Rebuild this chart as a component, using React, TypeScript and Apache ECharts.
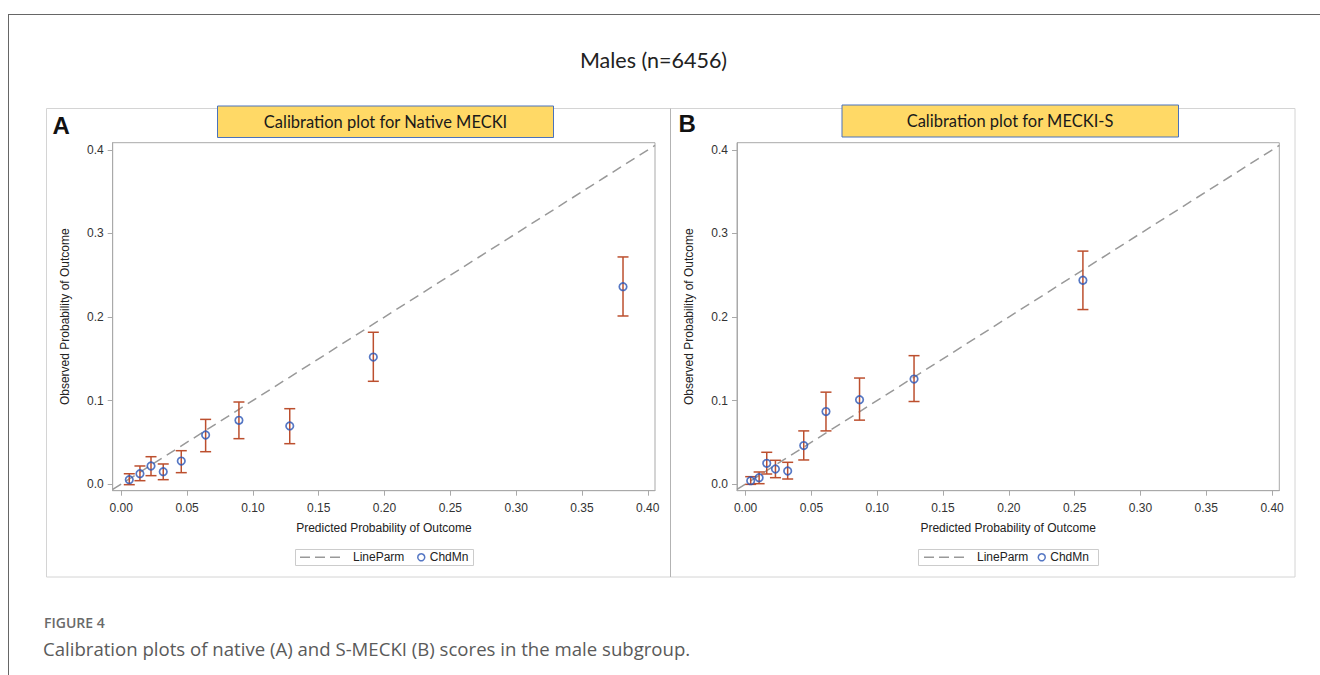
import React, { useEffect, useRef } from "react";
import * as echarts from "echarts";

// ---- Data ----
const nativePredicted = [0.0061, 0.0142, 0.0226, 0.0319, 0.0456, 0.0641, 0.0894, 0.128, 0.1915, 0.3812];
const nativeObserved = [0.0052, 0.0124, 0.0216, 0.0148, 0.0275, 0.0587, 0.0763, 0.0695, 0.152, 0.2363];
const nativeLower = [-0.0008, 0.004, 0.010, 0.0052, 0.0136, 0.0387, 0.0543, 0.0483, 0.123, 0.2012];
const nativeUpper = [0.0123, 0.0216, 0.0327, 0.024, 0.0399, 0.0774, 0.0982, 0.0902, 0.1817, 0.2719];

const sPredicted = [0.0039, 0.0103, 0.0161, 0.0227, 0.032, 0.0442, 0.0611, 0.0866, 0.128, 0.2563];
const sObserved = [0.004, 0.0076, 0.0248, 0.018, 0.0156, 0.046, 0.0868, 0.101, 0.1257, 0.244];
const sLower = [-0.0004, 0.0004, 0.012, 0.0076, 0.006, 0.0288, 0.0636, 0.0765, 0.0988, 0.2089];
const sUpper = [0.0088, 0.0144, 0.038, 0.0284, 0.026, 0.0636, 0.110, 0.1269, 0.1537, 0.2789];

const xTicks = [0, 0.05, 0.1, 0.15, 0.2, 0.25, 0.3, 0.35, 0.4];
const yTicks = [0, 0.1, 0.2, 0.3, 0.4];
const X_MIN = -0.0065;
const X_MAX = 0.4055;
const Y_MIN = -0.008;
const Y_MAX = 0.4087;
const refLineEnds = [X_MIN, X_MAX]; // LineParm: observed = predicted

const panelTitles = ["Calibration plot for Native MECKI", "Calibration plot for MECKI-S"];
const panelLetters = ["A", "B"];
const mainTitle = "Males (n=6456)";
const figLabel = "FIGURE 4";
const caption = "Calibration plots of native (A) and S-MECKI (B) scores in the male subgroup.";

const SAS_FONT = "'Liberation Sans', Arial, sans-serif";
const AXIS_COLOR = "#a9a9a9";
const BAR_COLOR = "#BC4F2E";
const MARK_COLOR = "#2A55B5";
const LINE_COLOR = "#999999";
const DASH_ICON = "path://M0,0h10v1.6h-10z M15,0h10v1.6h-10z M30,0h10v1.6h-10z";

export default function App() {
  const ref = useRef<HTMLDivElement>(null);

  useEffect(() => {
    if (!ref.current) return;
    const chart = echarts.init(ref.current, undefined, { renderer: "svg" });

    const panels = [
      { pred: nativePredicted, obs: nativeObserved, lo: nativeLower, hi: nativeUpper },
      { pred: sPredicted, obs: sObserved, lo: sLower, hi: sUpper },
    ];
    const gridLefts = [112.7, 737];

    const errorRender = (params: any, api: any) => {
      const x = api.value(0);
      const lo = api.value(1);
      const hi = api.value(2);
      const pLo = api.coord([x, lo]);
      const pHi = api.coord([x, hi]);
      const hw = 5.5;
      const st = { stroke: BAR_COLOR, lineWidth: 1.5 };
      return {
        type: "group",
        children: [
          { type: "line", shape: { x1: pLo[0], y1: pLo[1], x2: pHi[0], y2: pHi[1] }, style: st },
          { type: "line", shape: { x1: pLo[0] - hw, y1: pLo[1], x2: pLo[0] + hw, y2: pLo[1] }, style: st },
          { type: "line", shape: { x1: pHi[0] - hw, y1: pHi[1], x2: pHi[0] + hw, y2: pHi[1] }, style: st },
        ],
      };
    };

    const series: any[] = [];
    panels.forEach((p, i) => {
      series.push({
        type: "line",
        name: "LineParm",
        xAxisIndex: i,
        yAxisIndex: i,
        data: refLineEnds.map((v) => [v, v]),
        symbol: "none",
        lineStyle: { color: LINE_COLOR, width: 1.5, type: [10, 6] },
        z: 2,
      });
      series.push({
        type: "custom",
        name: "CI",
        xAxisIndex: i,
        yAxisIndex: i,
        data: p.pred.map((x, k) => [x, p.lo[k], p.hi[k]]),
        encode: { x: 0, y: [1, 2] },
        renderItem: errorRender,
        z: 3,
      });
      series.push({
        type: "scatter",
        name: "ChdMn",
        xAxisIndex: i,
        yAxisIndex: i,
        data: p.pred.map((x, k) => [x, p.obs[k]]),
        symbol: "circle",
        symbolSize: 7.5,
        itemStyle: { color: "rgba(0,0,0,0)", borderColor: MARK_COLOR, borderWidth: 1.7 },
        z: 5,
      });
    });

    const labelStyle = { fontFamily: SAS_FONT, fontSize: 12, color: "#333" };

    const legendLine = (left: number) => ({
      data: [{ name: "LineParm", icon: DASH_ICON, itemStyle: { color: LINE_COLOR, borderWidth: 0 } }],
      left,
      top: 551.3,
      padding: 0,
      itemWidth: 40,
      itemHeight: 12,
      selectedMode: false,
      textStyle: { ...labelStyle, color: "#222", padding: [0, 0, 0, 8] },
    });
    const legendMark = (left: number) => ({
      data: [
        {
          name: "ChdMn",
          icon: "circle",
          itemStyle: { color: "rgba(0,0,0,0)", borderColor: MARK_COLOR, borderWidth: 1.5 },
        },
      ],
      left,
      top: 551.3,
      padding: 0,
      itemWidth: 7,
      itemHeight: 7,
      selectedMode: false,
      textStyle: { ...labelStyle, color: "#222" },
    });

    const text = (t: string, x: number, y: number, extra: any) => ({
      type: "text",
      x,
      y,
      z: 100,
      style: { text: t, verticalAlign: "middle", ...extra },
    });

    const option: any = {
      animation: false,
      backgroundColor: "#ffffff",
      grid: gridLefts.map((left) => ({
        left,
        top: 142.7,
        width: 542.3,
        height: 348,
        show: true,
        borderColor: AXIS_COLOR,
        borderWidth: 1,
        backgroundColor: "transparent",
      })),
      xAxis: [0, 1].map((i) => ({
        gridIndex: i,
        type: "value",
        min: X_MIN,
        max: X_MAX,
        axisLine: { show: true, onZero: false, lineStyle: { color: AXIS_COLOR } },
        axisTick: { show: true, length: 5, customValues: xTicks, lineStyle: { color: AXIS_COLOR } },
        axisLabel: {
          customValues: xTicks,
          formatter: (v: number) => v.toFixed(2),
          margin: 11,
          ...labelStyle,
        },
        splitLine: { show: false },
        name: "Predicted Probability of Outcome",
        nameLocation: "middle",
        nameGap: 31,
        nameTextStyle: { ...labelStyle, color: "#222" },
      })),
      yAxis: [0, 1].map((i) => ({
        gridIndex: i,
        type: "value",
        min: Y_MIN,
        max: Y_MAX,
        axisLine: { show: true, onZero: false, lineStyle: { color: AXIS_COLOR } },
        axisTick: { show: true, length: 5, customValues: yTicks, lineStyle: { color: AXIS_COLOR } },
        axisLabel: {
          customValues: yTicks,
          formatter: (v: number) => v.toFixed(1),
          margin: 9,
          ...labelStyle,
        },
        splitLine: { show: false },
        name: "Observed Probability of Outcome",
        nameLocation: "middle",
        nameGap: 42,
        nameRotate: 90,
        nameTextStyle: { ...labelStyle, color: "#222" },
      })),
      legend: [legendLine(300), legendMark(417), legendLine(924), legendMark(1037.5)],
      series,
      graphic: [
        // outer figure frame
        { type: "line", z: 1, shape: { x1: 8, y1: 14.5, x2: 1320, y2: 14.5 }, style: { stroke: "#666", lineWidth: 1 } },
        { type: "line", z: 1, shape: { x1: 8.5, y1: 14, x2: 8.5, y2: 675 }, style: { stroke: "#666", lineWidth: 1 } },
        // panel frames
        { type: "rect", z: 1, shape: { x: 46.5, y: 108.5, width: 624, height: 468.5 }, style: { fill: "none", stroke: "#d4d4d4", lineWidth: 1 } },
        { type: "rect", z: 1, shape: { x: 670.5, y: 108.5, width: 624.5, height: 468.5 }, style: { fill: "none", stroke: "#d4d4d4", lineWidth: 1 } },
        { type: "line", z: 1, shape: { x1: 670.5, y1: 108.5, x2: 670.5, y2: 577 }, style: { stroke: "#b3b3b3", lineWidth: 1 } },
        // panel title boxes
        { type: "rect", z: 50, shape: { x: 217.5, y: 106, width: 336, height: 31.5 }, style: { fill: "#FFD966", stroke: "#4A72BC", lineWidth: 1 } },
        { type: "rect", z: 50, shape: { x: 842, y: 105, width: 336.5, height: 32 }, style: { fill: "#FFD966", stroke: "#4A72BC", lineWidth: 1 } },
        text(panelTitles[0], 385.5, 121.5, { fontFamily: "Lato, sans-serif", fontSize: 16.5, fill: "#1a1a1a", align: "center" }),
        text(panelTitles[1], 1010, 120.5, { fontFamily: "Lato, sans-serif", fontSize: 16.5, fill: "#1a1a1a", align: "center" }),
        // panel letters
        text(panelLetters[0], 52.5, 125, { fontFamily: SAS_FONT, fontSize: 24, fontWeight: "bold", fill: "#111", align: "left" }),
        text(panelLetters[1], 678.5, 123, { fontFamily: SAS_FONT, fontSize: 24, fontWeight: "bold", fill: "#111", align: "left" }),
        // legend borders
        { type: "rect", z: 1, shape: { x: 295.5, y: 549.5, width: 178, height: 16 }, style: { fill: "none", stroke: "#cccccc", lineWidth: 1 } },
        { type: "rect", z: 1, shape: { x: 918.5, y: 549.5, width: 180, height: 16 }, style: { fill: "none", stroke: "#cccccc", lineWidth: 1 } },
        // main title
        text(mainTitle, 653.5, 59.5, { fontFamily: "Lato, sans-serif", fontSize: 21.5, fill: "#222", align: "center" }),
        // caption
        text(figLabel, 44, 622, { fontFamily: "'Open Sans', sans-serif", fontSize: 14, fontWeight: 600, fill: "#6a6a6a", align: "left" }),
        text(caption, 43, 648, { fontFamily: "'Open Sans', sans-serif", fontSize: 18.6, fill: "#5a5a5a", align: "left" }),
      ],
    };

    chart.setOption(option);
    return () => chart.dispose();
  }, []);

  return (
    <div
      ref={ref}
      style={{ position: "fixed", left: 0, top: 0, width: 1320, height: 675, background: "#fff" }}
    />
  );
}
